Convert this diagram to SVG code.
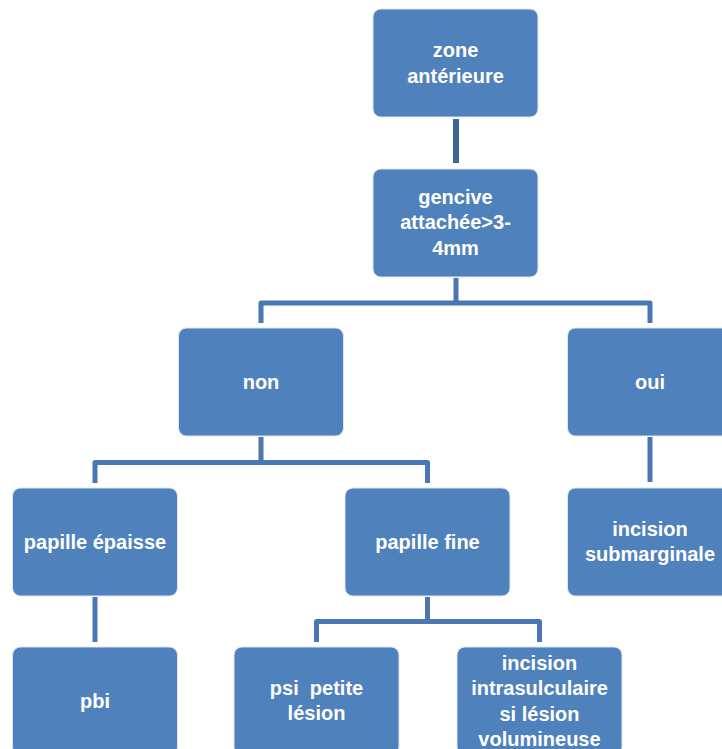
<svg xmlns="http://www.w3.org/2000/svg" width="722" height="749" viewBox="0 0 722 749">
<style>
.box{fill:#4F81BD;stroke:#dce6f2;stroke-width:1;}
.lbl{font-family:"Liberation Sans",Arial,sans-serif;font-weight:bold;font-size:20px;fill:#ffffff;text-anchor:middle;white-space:pre;}
.con{fill:none;stroke:#4A78B2;stroke-width:5;stroke-linejoin:round;}
.con.dark{stroke:#3C6697;stroke-width:6;}
</style>
<rect width="722" height="749" fill="#ffffff"/>
<g id="connectors">
<path class="con dark" d="M456,119 V163"/>
<path class="con" d="M456,278 V303 M261,323 V303 H650 V323"/>
<path class="con" d="M261,437 V462.5 M95,483 V462.5 H427.5 V483"/>
<path class="con" d="M650,437 V482"/>
<path class="con" d="M95,597 V642"/>
<path class="con" d="M427.5,597 V621.5 M316.5,642 V621.5 H539.5 V642"/>
</g>
<g id="n1">
<rect class="box" x="373" y="9" width="165" height="108" rx="8"/>
<text class="lbl" x="455.5" y="57">zone</text>
<text class="lbl" x="455.5" y="82.5">antérieure</text>
</g>
<g id="n2">
<rect class="box" x="373" y="169" width="165" height="108" rx="8"/>
<text class="lbl" x="455.5" y="203.5">gencive</text>
<text class="lbl" x="455.5" y="229">attachée&gt;3-</text>
<text class="lbl" x="455.5" y="254.5">4mm</text>
</g>
<g id="n3">
<rect class="box" x="178.5" y="328" width="165" height="108" rx="8"/>
<text class="lbl" x="261" y="388.5">non</text>
</g>
<g id="n4">
<rect class="box" x="567.5" y="328" width="165" height="108" rx="8"/>
<text class="lbl" x="650" y="388.5">oui</text>
</g>
<g id="n5">
<rect class="box" x="12.5" y="488" width="165" height="108" rx="8"/>
<text class="lbl" x="95" y="548.5">papille épaisse</text>
</g>
<g id="n6">
<rect class="box" x="345" y="488" width="165" height="108" rx="8"/>
<text class="lbl" x="427.5" y="548.5">papille fine</text>
</g>
<g id="n7">
<rect class="box" x="567.5" y="488" width="165" height="108" rx="8"/>
<text class="lbl" x="650" y="535.5">incision</text>
<text class="lbl" x="650" y="561">submarginale</text>
</g>
<g id="n8">
<rect class="box" x="12.5" y="647" width="165" height="108" rx="8"/>
<text class="lbl" x="95" y="707.5">pbi</text>
</g>
<g id="n9">
<rect class="box" x="234" y="647" width="165" height="108" rx="8"/>
<text class="lbl" x="316.5" y="694.5">psi  petite</text>
<text class="lbl" x="316.5" y="720">lésion</text>
</g>
<g id="n10">
<rect class="box" x="457" y="647" width="165" height="108" rx="8"/>
<text class="lbl" x="539.5" y="669.5">incision</text>
<text class="lbl" x="539.5" y="695">intrasulculaire</text>
<text class="lbl" x="539.5" y="720.5">si lésion</text>
<text class="lbl" x="539.5" y="746">volumineuse</text>
</g>
</svg>
